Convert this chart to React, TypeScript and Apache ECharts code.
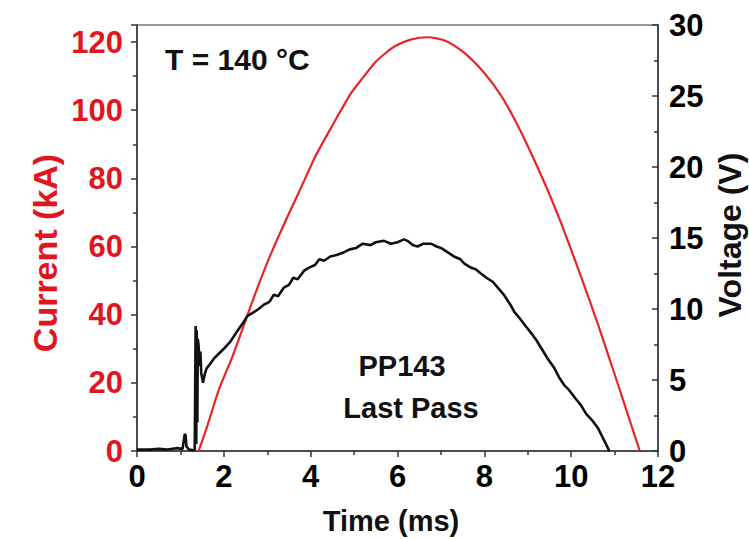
import React, { useEffect, useRef } from "react";
import * as echarts from "echarts";

const currentTime = [1.42, 1.62, 1.9, 2.19, 2.45, 2.73, 3.05, 3.42, 3.75, 4.11, 4.5, 4.92, 5.2, 5.5, 5.75, 5.96, 6.3, 6.69, 7.1, 7.54, 8.0, 8.39, 8.75, 9.12, 9.45, 9.77, 10.05, 10.31, 10.6, 10.85, 11.12, 11.39, 11.58];
const currentKA = [0, 7.4, 18.5, 27.4, 36.5, 46.4, 56.8, 67.5, 76.5, 86.5, 95.5, 104.8, 109.5, 114.2, 117.0, 118.9, 120.7, 121.4, 120.4, 116.8, 110.9, 104.2, 96, 86.2, 76.8, 66.8, 57.3, 48.2, 37.8, 28.3, 17.9, 7.4, 0];

const voltageTime = [0, 0.3, 0.5, 0.7, 0.9, 1.05, 1.1, 1.12, 1.14, 1.2, 1.3, 1.33, 1.35, 1.365, 1.375, 1.39, 1.4, 1.42, 1.44, 1.46, 1.48, 1.52, 1.56, 1.6, 1.7, 1.77, 1.9, 2.0, 2.15, 2.3, 2.46, 2.54, 2.7, 2.8, 2.92, 3.05, 3.15, 3.25, 3.38, 3.5, 3.6, 3.7, 3.85, 3.95, 4.1, 4.2, 4.31, 4.45, 4.6, 4.77, 4.9, 5.05, 5.2, 5.38, 5.5, 5.69, 5.85, 6.0, 6.15, 6.23, 6.35, 6.46, 6.6, 6.77, 6.9, 7.0, 7.15, 7.3, 7.45, 7.54, 7.7, 7.8, 7.92, 8.05, 8.2, 8.31, 8.45, 8.6, 8.69, 8.8, 8.95, 9.08, 9.2, 9.32, 9.46, 9.6, 9.72, 9.85, 9.95, 10.1, 10.23, 10.35, 10.5, 10.62, 10.75, 10.88];
const voltageV = [0.1, 0.1, 0.15, 0.1, 0.2, 0.15, 1.2, 1.1, 0.3, 0.1, 0.05, 0.1, 8.8, 0.5, 8.5, 2.0, 7.9, 7.4, 6.0, 7.0, 5.5, 4.8, 5.4, 5.8, 6.2, 6.5, 6.9, 7.2, 7.7, 8.4, 9.1, 9.5, 9.8, 10.0, 10.3, 10.5, 11.0, 10.9, 11.5, 11.7, 12.2, 12.1, 12.7, 12.9, 13.1, 13.5, 13.4, 13.7, 13.8, 14.0, 14.2, 14.3, 14.6, 14.5, 14.7, 14.8, 14.6, 14.7, 14.9, 14.8, 14.5, 14.4, 14.6, 14.6, 14.4, 14.3, 14.0, 13.7, 13.5, 13.2, 12.9, 12.8, 12.5, 12.2, 11.9, 11.5, 11.0, 10.3, 9.8, 9.4, 8.8, 8.3, 7.8, 7.2, 6.5, 5.9, 5.2, 4.6, 4.3, 3.7, 3.2, 2.6, 2.1, 1.6, 0.8, 0];

const xTicks = { min: 0, max: 12, interval: 2 };
const leftTicks = { min: 0, max: 125, interval: 20 };
const rightTicks = { min: 0, max: 30, interval: 5 };

const RED = "#e3151c";
const FONT = "Liberation Sans, Arial, sans-serif";

export default function App() {
  const ref = useRef<HTMLDivElement>(null);
  useEffect(() => {
    if (!ref.current) return;
    const chart = echarts.init(ref.current, null, { renderer: "svg" });
    const labelBase = { fontFamily: FONT, fontWeight: "bold" as const, fontSize: 31 };
    const lineCol = { color: "#333", width: 1.5 };
    chart.setOption({
      animation: false,
      grid: { left: 137, right: 91, top: 25, bottom: 88, show: true, borderColor: "#777", borderWidth: 1.5 },
      xAxis: {
        type: "value",
        ...xTicks,
        axisLine: { show: true, onZero: false, lineStyle: lineCol },
        axisTick: { show: true, inside: false, length: 6, lineStyle: lineCol },
        minorTick: { show: true, splitNumber: 2, length: 4, lineStyle: lineCol },
        splitLine: { show: false },
        axisLabel: { ...labelBase, color: "#000", margin: 10 },
      },
      yAxis: [
        {
          type: "value",
          position: "left",
          ...leftTicks,
          axisLine: { show: true, lineStyle: lineCol },
          axisTick: { show: true, inside: false, length: 6, lineStyle: lineCol },
          minorTick: { show: true, splitNumber: 2, length: 4, lineStyle: lineCol },
          splitLine: { show: false },
          axisLabel: { ...labelBase, color: RED, margin: 14, formatter: (v: number) => (v > 121 ? "" : String(v)) },
        },
        {
          type: "value",
          position: "right",
          ...rightTicks,
          axisLine: { show: true, lineStyle: lineCol },
          axisTick: { show: true, inside: true, length: 6, lineStyle: lineCol },
          minorTick: { show: true, splitNumber: 2, length: 4, lineStyle: lineCol },
          splitLine: { show: false },
          axisLabel: { ...labelBase, color: "#000", margin: 11 },
        },
      ],
      series: [
        {
          type: "line",
          yAxisIndex: 0,
          data: currentTime.map((t, i) => [t, currentKA[i]]),
          showSymbol: false,
          smooth: 0.25,
          lineStyle: { color: "#e8232a", width: 2.2 },
          z: 2,
        },
        {
          type: "line",
          yAxisIndex: 1,
          data: voltageTime.map((t, i) => [t, voltageV[i]]),
          showSymbol: false,
          lineStyle: { color: "#111", width: 2.6 },
          z: 3,
        },
      ],
      graphic: [
        { type: "text", left: 165, top: 44, style: { text: "T = 140 °C", font: `bold 30px ${FONT}`, fill: "#111" } },
        { type: "text", x: 402, y: 366, style: { text: "PP143", font: `bold 29px ${FONT}`, fill: "#111", align: "center", verticalAlign: "middle" } },
        { type: "text", x: 411, y: 408, style: { text: "Last Pass", font: `bold 29px ${FONT}`, fill: "#111", align: "center", verticalAlign: "middle" } },
        { type: "text", x: 391, y: 521, style: { text: "Time (ms)", font: `bold 29px ${FONT}`, fill: "#111", align: "center", verticalAlign: "middle" } },
        { type: "text", x: 45, y: 253, rotation: Math.PI / 2, style: { text: "Current (kA)", font: `bold 34px ${FONT}`, fill: RED, align: "center", verticalAlign: "middle" } },
        { type: "text", x: 730, y: 235, rotation: Math.PI / 2, style: { text: "Voltage (V)", font: `bold 32px ${FONT}`, fill: "#111", align: "center", verticalAlign: "middle" } },
      ],
    });
    return () => chart.dispose();
  }, []);
  return <div ref={ref} style={{ position: "absolute", left: 0, top: 0, width: 749, height: 539, background: "#fff" }} />;
}
